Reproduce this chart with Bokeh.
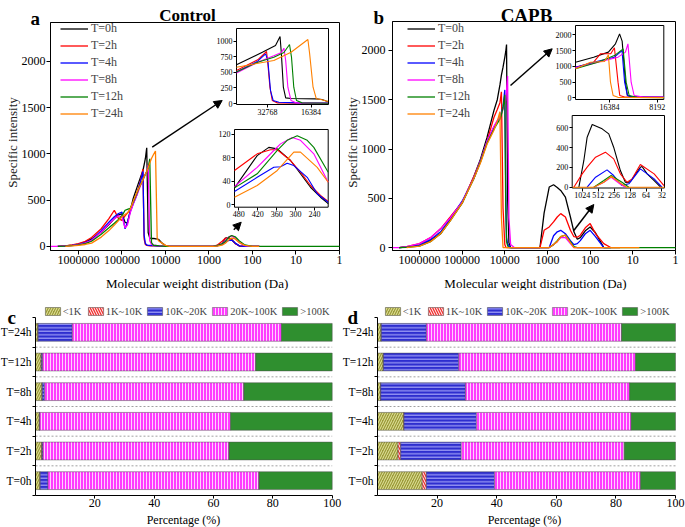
import numpy as np
from bokeh.plotting import figure
from bokeh.layouts import column, row
from bokeh.models import (Range1d, LogScale, LinearScale, LinearAxis, FixedTicker,
                          NumeralTickFormatter, Legend, LegendItem, Label, Arrow,
                          NormalHead, ColumnDataSource)
from bokeh.embed import file_html
from bokeh.resources import INLINE

FONT = "Liberation Serif"
N = None

SERIES = ["T=0h", "T=2h", "T=4h", "T=8h", "T=12h", "T=24h"]
COLORS = ["#000000", "#FF0000", "#0000FF", "#FF00FF", "#008000", "#FF8000"]

# ---------------- panel a (Control): main curves ----------------
MW_A = [4.4e6, 3e6, 2e6, 1.4e6, 1e6, 7e5, 5e5, 3e5, 2e5, 1.5e5, 1.2e5, 1e5, 8.5e4, 7.5e4,
        6.5e4, 5.5e4, 4.5e4, 3.8e4, 3.3e4, 3.1e4, 2.9e4, 2.7e4, 2.5e4, 2.3e4, 2.1e4, 1.9e4,
        1.7e4, 1.55e4, 1.4e4, 1.2e4, 1e4, 8e3, 1e3, 800, 650, 500, 420, 350, 300, 250, 200,
        150, 100, 70, 1]
A_MAIN = {
    "T=0h": [N, 0, 4, 12, 25, 45, 80, 155, 235, 300, 340, 350, 260, 250, 380, 520, 640, 740, 820,
             880, 950, 1065, 150, 88, 85, 85, 82, 80, 70, 35, 8, 0, 0, 0, 8, 27, 89, 93, 72, 33,
             3, 0, 0, 0, N],
    "T=2h": [N, 0, 5, 15, 30, 55, 95, 190, 300, 390, 300, 280, 330, 360, 400, 470, 580, 700, 835,
             80, 20, 10, 8, 6, 5, 5, 4, 3, 2, 1, 0, 0, 0, 0, 12, 55, 87, 94, 72, 30, 5, 0, 0, 0, N],
    "T=4h": [N, 0, 3, 10, 20, 40, 70, 170, 260, 320, 355, 370, 190, 260, 370, 460, 560, 690, 810,
             120, 30, 15, 10, 10, 8, 8, 6, 5, 3, 1, 0, 0, 0, 0, 6, 21, 47, 65, 68, 35, 5, 0, 0, 0, N],
    "T=8h": [0, 0, 3, 10, 18, 38, 65, 155, 240, 300, 330, 320, 200, 230, 360, 460, 560, 650, 720,
             750, 780, 810, 880, 60, 20, 12, 10, 8, 6, 3, 0, 0, 0, 0, 8, 28, 64, 102, 114, 85, 40,
             8, 0, 0, N],
    "T=12h": [N, 0, 2, 8, 15, 30, 55, 130, 200, 250, 290, 330, 390, 400, 410, 480, 580, 660, 720,
              750, 780, 810, 850, 947, 40, 12, 10, 8, 5, 3, 0, 0, 0, 0, 7, 27, 53, 100, 117, 103,
              57, 15, 0, 0, 0],
    "T=24h": [N, N, 0, 5, 10, 20, 35, 100, 170, 230, 280, 320, 345, 360, 400, 490, 590, 660, 720,
              750, 780, 810, 850, 900, 950, 990, 1030, 80, 55, 35, 10, 0, 0, 0, 3, 12, 33, 70, 90,
              80, 40, 10, 0, 0, N],
}
# inset a (top): MW vs intensity
A_TOP = {
    "T=0h": ([53700, 35600, 28860, 26850, 26290, 25480, 24550, 22540, 15070, 13780, 12900, 12520],
             [621, 823, 931, 1075, 800, 262, 91, 80, 75, 65, 40, 30]),
    "T=2h": ([53700, 38300, 33290, 32600, 31550, 30390, 28010, 20000, 12520],
             [530, 701, 835, 637, 262, 48, 10, 5, 3]),
    "T=4h": ([53700, 38300, 33800, 32600, 31250, 29970, 27370, 20000, 12520],
             [504, 679, 797, 690, 208, 48, 21, 10, 8]),
    "T=8h": ([53700, 38300, 29650, 26240, 25250, 24550, 23710, 22540, 20670, 12520],
             [488, 663, 765, 819, 888, 690, 262, 48, 10, 5]),
    "T=12h": ([53700, 38300, 29650, 25250, 23100, 22380, 21580, 20670, 18900, 12520],
              [504, 663, 744, 819, 947, 744, 262, 48, 10, 5]),
    "T=24h": ([53700, 29650, 22540, 17240, 16770, 15880, 15070, 13780, 12520],
              [583, 690, 823, 1027, 800, 262, 75, 59, 32]),
}
# inset a (bottom)
A_BOT = {
    "T=0h": ([493.6, 421.7, 384.9, 358, 316, 284.4, 252.7, 221, 196.6],
             [29, 84, 98, 95.5, 75.6, 53, 30, 13, 2]),
    "T=2h": ([493.6, 421.7, 379.5, 358, 316, 284.4, 252.7, 221, 196.6],
             [58.6, 87, 94, 94, 75.6, 55.7, 33, 16, 5.7]),
    "T=4h": ([493.6, 421.7, 369, 347.8, 326.7, 305.6, 263.1, 231.4, 196.6],
             [22.7, 47, 64, 65, 71, 67, 47, 19, 4.5]),
    "T=8h": ([493.6, 421.7, 369, 347.8, 310.7, 284.4, 242.2, 196.6],
             [31, 64, 92.7, 104, 115, 110, 87, 38.6]),
    "T=12h": ([493.6, 421.7, 358, 326.7, 294.8, 263.1, 242.2, 196.6],
              [29, 53, 93, 110, 118, 110, 98, 55.7]),
    "T=24h": ([493.6, 421.7, 358, 305.6, 284.4, 231.4, 196.6],
              [13, 33, 58.6, 90, 90, 64, 38.6]),
}

# ---------------- panel b (CAPB): main curves ----------------
MW_B = [4.4e6, 3e6, 2e6, 1e6, 5.5e5, 3.2e5, 1.9e5, 1e5, 5.3e4, 3.7e4, 2.6e4, 1.8e4, 1.5e4,
        1.3e4, 1.2e4, 1.1e4, 1e4, 9.5e3, 9.1e3, 8.6e3, 8e3, 7.3e3, 6e3, 2e3, 1.5e3, 1.2e3, 910,
        720, 590, 490, 380, 290, 240, 200, 170, 130, 100, 75, 48, 33, 20, 7, 1]
B_MAIN = {
    "T=0h": [N, 0, 5, 22, 75, 140, 280, 450, 720, 900, 1120, 1390, 1500, 1650, 1750, 1830, 1930,
             1990, 2060, 500, 50, 0, 0, 0, 0, 350, 614, 637, 610, 580, 512, 310, 160, 84, 100,
             170, 209, 150, 0, 0, N, N, N],
    "T=2h": [N, 0, 10, 40, 100, 190, 310, 460, 720, 880, 1080, 1320, 1400, 1470, 1580, 400, 30,
             5, 0, 0, 0, 0, 0, 0, 0, 175, 209, 260, 310, 344, 310, 175, 110, 105, 125, 200, 243,
             142, 40, 0, 0, N, N],
    "T=4h": [N, 0, 5, 25, 80, 160, 290, 470, 700, 880, 1080, 1220, 1280, 1330, 1370, 1430, 1600,
             600, 100, 40, 20, 0, 0, 0, 0, 0, 0, 120, 160, 175, 140, 70, 30, 40, 70, 140, 175,
             110, 0, 0, N, N, N],
    "T=8h": [0, 0, 10, 40, 100, 190, 300, 460, 710, 880, 1080, 1230, 1290, 1330, 1360, 1400, 1450,
             1500, 1600, 1740, 300, 30, 0, 0, 0, 0, 0, 30, 60, 100, 100, 40, 0, 0, 0, 0, 0, 0, 0,
             N, N, N, N],
    "T=12h": [N, 0, 3, 15, 60, 140, 270, 450, 700, 870, 1060, 1200, 1260, 1300, 1350, 1420, 1550,
              400, 60, 20, 0, 0, 0, 0, 0, 0, 0, 30, 70, 110, 125, 60, 10, 0, 0, 0, 0, 0, 0, 0, 0,
              0, 0],
    "T=24h": [N, N, 0, 15, 60, 140, 270, 450, 700, 860, 1050, 1190, 1280, 1380, 300, 0, 0, 0, 0,
              0, 0, 0, 0, 0, 0, 0, 0, 30, 60, 110, 125, 50, 0, 0, 0, 0, 0, 0, 0, 0, 0, 0, N],
}
B_TOP = {
    "T=0h": ([26850, 20630, 16650, 15020, 14150, 13630, 12990, 12630, 11820, 7440],
             [1130, 1290, 1450, 1714, 2030, 1800, 496, 73, 25, 25]),
    "T=2h": ([26850, 20630, 18640, 16080, 15250, 14470, 14110, 13000, 7440],
             [971, 1130, 1400, 1400, 1587, 496, 73, 20, 10]),
    "T=4h": ([26850, 19410, 15250, 13660, 13150, 12630, 11500, 7440],
             [971, 1160, 1290, 1500, 496, 73, 20, 15]),
    "T=8h": ([26850, 19410, 14470, 12990, 12530, 11960, 11450, 10000, 7440],
             [950, 1130, 1290, 1450, 1714, 496, 73, 25, 20]),
    "T=12h": ([26850, 19410, 15250, 13440, 12860, 12310, 11000, 7440],
              [920, 1130, 1340, 1555, 496, 73, 15, 5]),
    "T=24h": ([26850, 21600, 17600, 16650, 16150, 15540, 14500, 7440],
              [920, 1130, 1150, 1365, 496, 73, 15, 5]),
}
B_BOT = {
    "T=0h": ([1184, 953, 826, 663, 431, 323, 261, 195, 157, 146, 126, 82, 76, 61, 45, 34],
             [0, 270, 505, 633, 589, 539, 404, 168, 50, 45, 57, 202, 209, 135, 67, 0]),
    "T=2h": ([1473, 1024, 826, 573, 374, 261, 195, 146, 117, 82, 45, 29.4],
             [0, 135, 202, 303, 354, 286, 135, 50, 84, 229, 135, 17]),
    "T=4h": ([826, 573, 348, 261, 182, 135, 82, 45, 32],
             [0, 101, 175, 118, 17, 34, 185, 84, 0]),
    "T=8h": ([619, 400, 291, 195, 157], [0, 50, 100, 30, 0]),
    "T=12h": ([619, 400, 291, 182, 135], [0, 67, 118, 50, 0]),
    "T=24h": ([1581, 619, 400, 291, 182, 146, 28.7], [0, 0, 50, 110, 30, 0, 0]),
}

MAIN_XTICKS = [1e6, 1e5, 1e4, 1e3, 100, 10, 1]
MAIN_YTICKS = [0, 500, 1000, 1500, 2000]

# ---------------- panels c / d: stacked percentages ----------------
CATS = ["T=0h", "T=2h", "T=4h", "T=8h", "T=12h", "T=24h"]
SEGMENTS = ["<1K", "1K~10K", "10K~20K", "20K~100K", ">100K"]
C_PCT = {
    "<1K": [1.5, 2.1, 1.3, 2.2, 1.9, 0.8],
    "1K~10K": [0.1, 0.1, 0.05, 0.1, 0.1, 0.1],
    "10K~20K": [2.6, 0.3, 0.1, 0.8, 0.4, 11.5],
    "20K~100K": [71.1, 62.7, 64.3, 67.1, 71.8, 70.5],
    ">100K": [24.7, 34.8, 34.25, 29.8, 25.8, 17.1],
}
D_PCT = {
    "<1K": [15.0, 6.9, 8.8, 1.0, 1.9, 1.2],
    "1K~10K": [1.4, 0.9, 0.1, 0.1, 0.1, 0.1],
    "10K~20K": [22.9, 20.3, 24.3, 28.4, 25.3, 15.1],
    "20K~100K": [49.0, 54.7, 51.9, 55.1, 59.3, 65.5],
    ">100K": [11.7, 17.2, 14.9, 15.4, 13.4, 18.1],
}
PCT_TICKS = [20, 40, 60, 80, 100]

SEG_FILL = ["#9B9B3A", "#F03030", "#2E2ECF", "#FF3CFF", "#2F8F2F"]
SEG_HATCH = ["/", "\\", "-", "|", " "]
SEG_HATCH_COLOR = ["#E6E6A0", "#FFFFFF", "#B8B8FF", "#FFD0FF", "#FFFFFF"]
SEG_HATCH_SCALE = [5, 5, 3.5, 3, 5]


# ---------------- helpers ----------------
def blank(W, H):
    p = figure(width=W, height=H, x_range=Range1d(0, 1), y_range=Range1d(0, 1),
               x_axis_location=None, y_axis_location=None, min_border=0,
               output_backend="svg", toolbar_location=None)
    p.grid.visible = False
    p.outline_line_color = None
    p.background_fill_color = "white"
    p.border_fill_color = "white"
    return p


def region(p, key, W, H, box, xlim, ylim, xlog):
    """Ranges for which xlim/ylim fill the pixel box (L, T, R, B) of the canvas."""
    L, T, R, B = box
    if xlog:
        a, b = np.log10(xlim[0]), np.log10(xlim[1])
    else:
        a, b = float(xlim[0]), float(xlim[1])
    s = (b - a) / (R - L)
    x0, x1 = a - L * s, a + (W - L) * s
    if xlog:
        x0, x1 = 10 ** x0, 10 ** x1
    t = (ylim[1] - ylim[0]) / (B - T)
    y0 = ylim[0] - (H - B) * t
    y1 = ylim[1] + T * t
    xn, yn = key + "_x", key + "_y"
    p.extra_x_ranges = {**p.extra_x_ranges, xn: Range1d(float(x0), float(x1))}
    p.extra_y_ranges = {**p.extra_y_ranges, yn: Range1d(float(y0), float(y1))}
    p.extra_x_scales = {**p.extra_x_scales, xn: LogScale() if xlog else LinearScale()}
    p.extra_y_scales = {**p.extra_y_scales, yn: LinearScale()}
    return xn, yn


def px_to_data(box, xlim, ylim, xlog, px, py):
    L, T, R, B = box
    f = (px - L) / (R - L)
    if xlog:
        a, b = np.log10(xlim[0]), np.log10(xlim[1])
        x = 10 ** (a + (b - a) * f)
    else:
        x = xlim[0] + (xlim[1] - xlim[0]) * f
    g = (B - py) / (B - T)
    y = ylim[0] + (ylim[1] - ylim[0]) * g
    return float(x), float(y)


def axis(p, xn, yn, side, loc, bounds, ticks, minor=None, fmt=None, size="12px",
         tick_out=4, standoff=2, line=True, level="guide"):
    ax = LinearAxis(x_range_name=xn, y_range_name=yn, fixed_location=loc, bounds=bounds,
                    ticker=FixedTicker(ticks=ticks, minor_ticks=minor or []),
                    axis_line_color="black" if line else None, axis_line_width=1,
                    major_tick_out=tick_out, major_tick_in=0, major_tick_line_color="black",
                    minor_tick_line_color=None,
                    major_label_text_font=FONT, major_label_text_font_size=size,
                    major_label_text_color="black", major_label_standoff=standoff,
                    level=level)
    if fmt is not None:
        ax.formatter = fmt
    p.add_layout(ax, side)
    return ax


def text(p, H, s, x, y, size, bold=False, align="left", baseline="alphabetic", angle=0.0,
         color="black"):
    p.add_layout(Label(x=x, y=H - y, x_units="screen", y_units="screen", text=s,
                       text_font=FONT, text_font_size=size,
                       text_font_style="bold" if bold else "normal",
                       text_align=align, text_baseline=baseline, angle=angle,
                       text_color=color))


def arrow(p, xn, yn, box, xlim, ylim, tail, head):
    x0, y0 = px_to_data(box, xlim, ylim, True, *tail)
    x1, y1 = px_to_data(box, xlim, ylim, True, *head)
    p.add_layout(Arrow(end=NormalHead(size=8, fill_color="black", line_color="black"),
                       x_start=x0, y_start=y0, x_end=x1, y_end=y1,
                       x_range_name=xn, y_range_name=yn,
                       line_color="black", line_width=1.5))


def inset(p, key, W, H, box, xlim, ylim, xlog, xticks, yticks, data):
    xn, yn = region(p, key, W, H, box, xlim, ylim, xlog)
    p.quad(left=[xlim[0]], right=[xlim[1]], bottom=[ylim[0]], top=[ylim[1]],
           x_range_name=xn, y_range_name=yn, fill_color="white", line_color="black",
           line_width=1, level="annotation")
    for s_, c in zip(SERIES, COLORS):
        xs, ys = data[s_]
        p.line(xs, ys, x_range_name=xn, y_range_name=yn, line_color=c, line_width=1.1,
               level="annotation")
    axis(p, xn, yn, "left", xlim[0], (ylim[0], ylim[1]), yticks, size="8px", tick_out=3,
         standoff=1, line=False, level="overlay")
    axis(p, xn, yn, "below", ylim[0], (min(xlim), max(xlim)), xticks,
         fmt=NumeralTickFormatter(format="0"), size="8px", tick_out=3, standoff=1,
         line=False, level="overlay")


def curve_panel(W, H, box, xlim, ylim, mw, vals, ylab_standoff, legend_xy):
    p = blank(W, H)
    xn, yn = region(p, "main", W, H, box, xlim, ylim, True)
    p.quad(left=[xlim[0]], right=[xlim[1]], bottom=[ylim[0]], top=[ylim[1]],
           x_range_name=xn, y_range_name=yn, fill_color=None, line_color="black",
           line_width=1)
    x = np.array(mw, dtype=float)
    rs = []
    for s, c in zip(SERIES, COLORS):
        y = np.array([np.nan if v is None else v for v in vals[s]], dtype=float)
        rs.append(p.line(x, y, x_range_name=xn, y_range_name=yn, line_color=c,
                         line_width=1.3))
    axis(p, xn, yn, "below", ylim[0], (min(xlim), max(xlim)), MAIN_XTICKS,
         fmt=NumeralTickFormatter(format="0"), tick_out=4, standoff=1)
    axis(p, xn, yn, "left", xlim[0], (ylim[0], ylim[1]), MAIN_YTICKS, tick_out=4,
         standoff=ylab_standoff)
    leg = Legend(items=[LegendItem(label=s, renderers=[r]) for s, r in zip(SERIES, rs)],
                 location=legend_xy, orientation="vertical", border_line_color=None,
                 background_fill_alpha=0, padding=0, margin=0, spacing=2,
                 glyph_width=28, glyph_height=15, label_height=15, label_standoff=3,
                 label_text_font=FONT, label_text_font_size="12px")
    p.add_layout(leg)
    return p, xn, yn


# ---------------- panel a ----------------
HA = 290
A_BOX = (50, 22, 339, 250)
A_XLIM, A_YLIM = (4.4e6, 1), (-45, 2420)
pa, axn, ayn = curve_panel(342, HA, A_BOX, A_XLIM, A_YLIM, MW_A, A_MAIN, 1, (60, 169))
inset(pa, "at", 342, HA, (236, 28, 328, 104), (53700, 12420), (-16, 1204), True,
      [32768, 16384], [0, 250, 500, 750, 1000], A_TOP)
inset(pa, "ab", 342, HA, (234, 129, 327.7, 206.7), (493.6, 196.6), (-4, 128.5), False,
      [480, 420, 360, 300, 240], [0, 40, 80, 120], A_BOT)
arrow(pa, axn, ayn, A_BOX, A_XLIM, A_YLIM, (151.7, 146.7), (221.7, 100))
arrow(pa, axn, ayn, A_BOX, A_XLIM, A_YLIM, (233.3, 229.3), (240.7, 221.7))
text(pa, HA, "Control", 187, 15, "17px", bold=True, align="center")
text(pa, HA, "a", 30, 18, "19px", bold=True)
text(pa, HA, "Molecular weight distribution (Da)", 196.7, 283, "13px", align="center",
     baseline="middle")
text(pa, HA, "Specific intensity", 11.7, 142, "13px", align="center", baseline="middle",
     angle=np.pi / 2, color="#222222")

# ---------------- panel b ----------------
B_BOX = (50, 21, 333, 250)
B_XLIM, B_YLIM = (4.28e6, 1), (-30, 2294)
pb, bxn, byn = curve_panel(343, HA, B_BOX, B_XLIM, B_YLIM, MW_B, B_MAIN, 3, (65, 169))
inset(pb, "bt", 343, HA, (233, 25, 321.3, 99), (26850, 7440), (-54, 2295), True,
      [16384, 8192], [0, 500, 1000, 1500, 2000], B_TOP)
inset(pb, "bb", 343, HA, (229.7, 115, 322, 187.5), (1581, 28.7), (-8, 724), True,
      [1024, 512, 256, 128, 64, 32], [0, 200, 400, 600], B_BOT)
arrow(pb, bxn, byn, B_BOX, B_XLIM, B_YLIM, (168, 85), (209.7, 48.3))
arrow(pb, bxn, byn, B_BOX, B_XLIM, B_YLIM, (231.3, 230), (251.3, 204))
text(pb, HA, "CAPB", 184, 15, "19px", bold=True, align="center")
text(pb, HA, "b", 31, 17, "19px", bold=True)
text(pb, HA, "Molecular weight distribution (Da)", 193, 283, "13px", align="center",
     baseline="middle")
text(pb, HA, "Specific intensity", 9.7, 142, "13px", align="center", baseline="middle",
     angle=np.pi / 2, color="#222222")


# ---------------- panels c / d ----------------
def bar_panel(W, H, box, pct, legend_xy):
    p = blank(W, H)
    xn, yn = region(p, "bars", W, H, box, (0, 100), (-0.5, len(CATS) - 0.5), False)
    seps = [i + 0.5 for i in range(len(CATS) - 1)]
    p.segment(x0=[0] * len(seps), x1=[100] * len(seps), y0=seps, y1=seps,
              x_range_name=xn, y_range_name=yn, line_color="#A0A0A0", line_dash="2 2",
              line_width=1)
    data = {"y": list(range(len(CATS)))}
    data.update({k: pct[k] for k in SEGMENTS})
    src = ColumnDataSource(data)
    rs = p.hbar_stack(SEGMENTS, y="y", height=0.6, source=src,
                      x_range_name=xn, y_range_name=yn,
                      fill_color=SEG_FILL, line_color="#505050", line_width=0.5,
                      hatch_pattern=SEG_HATCH, hatch_color=SEG_HATCH_COLOR,
                      hatch_scale=SEG_HATCH_SCALE, hatch_weight=1)
    axis(p, xn, yn, "below", -0.5, (0, 100), PCT_TICKS, tick_out=3, standoff=0)
    ya = axis(p, xn, yn, "left", 0, (-0.5, len(CATS) - 0.5), list(range(len(CATS))),
              minor=[i - 0.5 for i in range(len(CATS) + 1)], size="11.5px", tick_out=3,
              standoff=1)
    ya.major_label_overrides = {i: c for i, c in enumerate(CATS)}
    ya.major_tick_line_color = None
    ya.minor_tick_line_color = "black"
    ya.minor_tick_out = 3
    ya.minor_tick_in = 0
    leg = Legend(items=[LegendItem(label=s, renderers=[r]) for s, r in zip(SEGMENTS, rs)],
                 location=legend_xy, orientation="horizontal",
                 border_line_color=None, background_fill_alpha=0, padding=0, margin=0,
                 spacing=3, glyph_width=19, glyph_height=10, label_height=14,
                 label_standoff=1, label_text_font=FONT, label_text_font_size="10.5px")
    p.add_layout(leg)
    return p


HC = 237
pc = bar_panel(342, HC, (35, 27, 331.7, 205), C_PCT, (42.7, 209))
text(pc, HC, "c", 7, 27, "19px", bold=True)
text(pc, HC, "Percentage (%)", 183, 229.3, "12px", align="center", baseline="middle")

pd_ = bar_panel(343, HC, (35, 27, 333, 205), D_PCT, (40.7, 209))
text(pd_, HC, "d", 5, 27, "19px", bold=True)
text(pd_, HC, "Percentage (%)", 182, 229.3, "12px", align="center", baseline="middle")

layout = column(row(pa, pb), row(pc, pd_))

with open("out.html", "w") as f:
    f.write(file_html(layout, INLINE))
